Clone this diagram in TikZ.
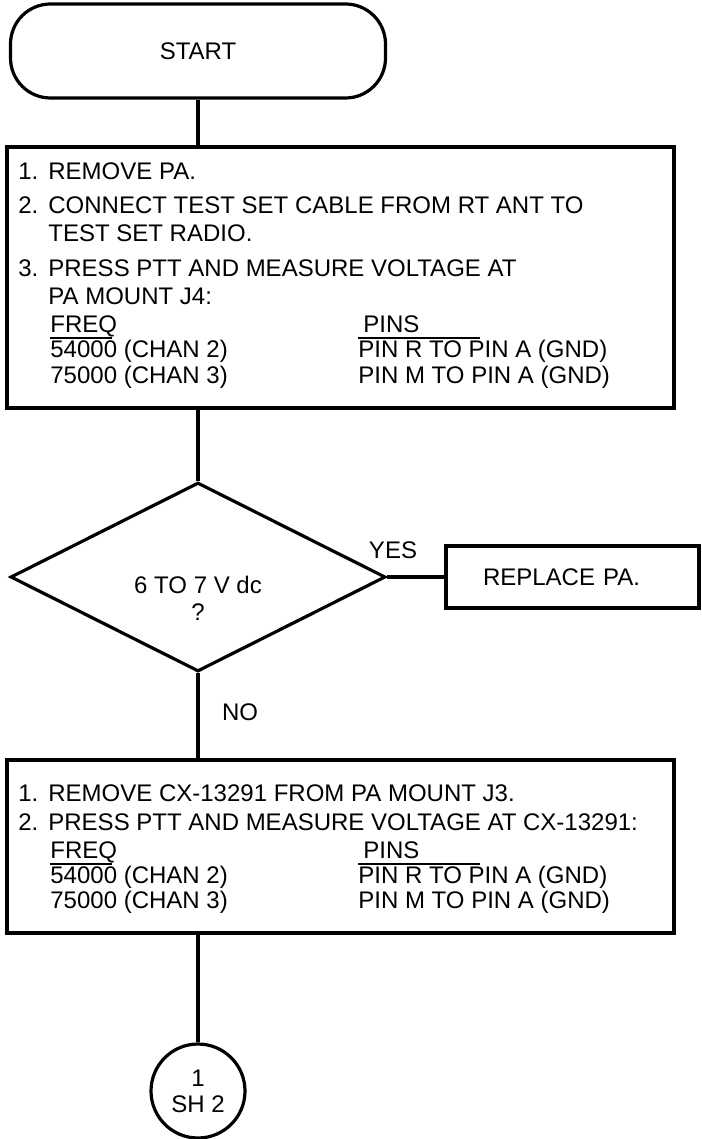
\documentclass[tikz,border=0pt]{standalone}
\usepackage{fontspec}
\setmainfont{Liberation Sans}
\usetikzlibrary{shapes.geometric, positioning, calc}

% column helpers for the step lists
\newcommand{\longstep}[1]{\multicolumn{2}{@{}l@{}}{#1}}
\newcommand{\headrule}[1]{\rlap{\rule[-3.25pt]{#1}{1pt}}}

\begin{document}
\begin{tikzpicture}[
  x=0.5pt, y=-0.5pt,
  font=\fontsize{12}{12.5}\selectfont,
  terminal/.style={draw, line width=1.6pt, rounded corners=20pt,
                   minimum width=187.5pt, minimum height=47pt},
  actbox/.style={draw, line width=1.6pt, inner sep=0pt,
                 minimum width=333.5pt},
  decision/.style={draw, diamond, line width=1.6pt, inner sep=0pt,
                   minimum width=187.5pt, minimum height=94.5pt},
  offpage/.style={draw, circle, line width=1.6pt, inner sep=0pt,
                  minimum size=47pt, align=center,
                  font=\fontsize{12}{13}\selectfont},
  steptext/.style={inner sep=0pt, anchor=base west},
  branch/.style={inner sep=0pt},
  conn/.style={line width=2.2pt},
]
\useasboundingbox (0,0) rectangle (701,1139);

% Start
\node[terminal] (start) at (198,51) {START};

% First check
\node[actbox, minimum height=130.5pt] (act1) at (340.5,277.5) {};
\node[steptext] (act1txt) at (18,179.5) {%
  \begin{tabular}[t]{@{}p{15pt}@{}p{155pt}@{}l@{}}
    1. & \longstep{REMOVE PA.}\\[4.5pt]
    2. & \longstep{CONNECT TEST SET CABLE FROM RT ANT TO}\\[1.5pt]
       & \longstep{TEST SET RADIO.}\\[5pt]
    3. & \longstep{PRESS PTT AND MEASURE VOLTAGE AT}\\[1.5pt]
       & \longstep{PA MOUNT J4:}\\[1.5pt]
       & \hspace{1pt}\headrule{31pt}FREQ & \headrule{61pt}\hspace{2.5pt}PINS\\
       & \hspace{1pt}54000 (CHAN 2) & PIN R TO PIN A (GND)\\[0.5pt]
       & \hspace{1pt}75000 (CHAN 3) & PIN M TO PIN A (GND)
  \end{tabular}};

% Decision
\node[decision] (dec) at (198,577) {};
\node[branch, align=center, font=\fontsize{12}{13.5}\selectfont]
  (dectxt) at (198,598) {6 TO 7 V dc\\?};
\node[branch] (yes) at (393,550) {YES};
\node[branch] (no) at (240,712) {NO};

\node[actbox, minimum width=126.5pt, minimum height=31pt,
      inner xsep=18.5pt, text width=89.5pt, align=left]
  (repl) at (572.5,577) {REPLACE PA.};

% Second check
\node[actbox, minimum height=86.5pt] (act2) at (340.5,846.5) {};
\node[steptext] (act2txt) at (18,801.5) {%
  \begin{tabular}[t]{@{}p{15pt}@{}p{155pt}@{}l@{}}
    1. & \longstep{REMOVE CX-13291 FROM PA MOUNT J3.}\\[2pt]
    2. & \longstep{PRESS PTT AND MEASURE VOLTAGE AT CX-13291:}\\[1.5pt]
       & \hspace{1pt}\headrule{31pt}FREQ & \headrule{61pt}\hspace{2.5pt}PINS\\
       & \hspace{1pt}54000 (CHAN 2) & PIN R TO PIN A (GND)\\
       & \hspace{1pt}75000 (CHAN 3) & PIN M TO PIN A (GND)
  \end{tabular}};

% Off-page connector
\node[offpage] (sheet2) at (198,1091) {1\\SH 2};

\draw[conn] (start.south) -- (start.south |- act1.north);
\draw[conn] (dec.north |- act1.south) -- (dec.north);
\draw[conn] (dec.east) -- (repl.west);
\draw[conn] (dec.south) -- (dec.south |- act2.north);
\draw[conn] (sheet2.north |- act2.south) -- (sheet2.north);
\end{tikzpicture}
\end{document}
